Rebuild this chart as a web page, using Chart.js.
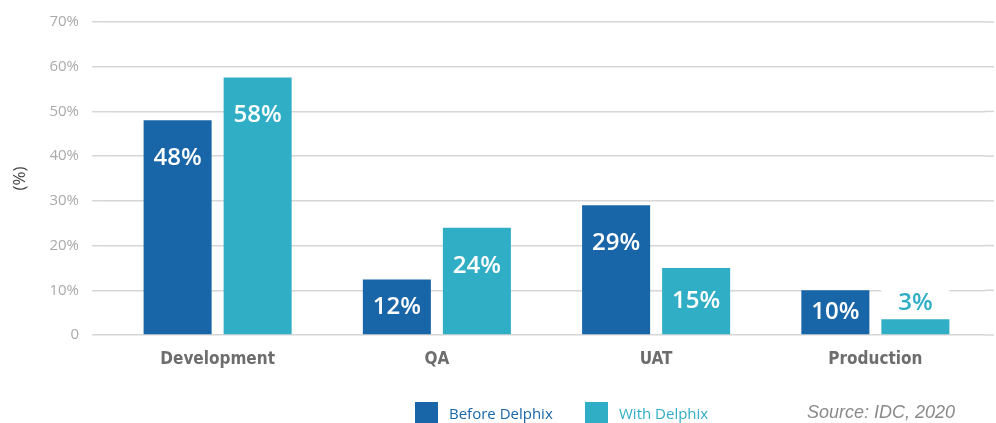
<!DOCTYPE html>
<html>
<head>
<meta charset="utf-8">
<script src="https://cdn.jsdelivr.net/npm/chart.js@4/dist/chart.umd.min.js"></script>
<style>
  html, body { margin: 0; padding: 0; background: #fff; }
  #wrap { position: relative; width: 996px; height: 423px; }
  canvas { position: absolute; left: 0; top: 0; }
  .lg { position: absolute; top: 402px; height: 23px; font-family: "Open Sans", sans-serif; font-size: 15px; line-height: 22px; white-space: nowrap; }
  .sw { display: inline-block; width: 23px; height: 23px; vertical-align: top; margin-right: 11px; }
  #src { position: absolute; left: 807px; top: 402px; font-family: "Liberation Sans", Arial, sans-serif; font-style: italic; font-size: 18px; color: #8a8a8a; white-space: nowrap; }
</style>
</head>
<body>
<div id="wrap">
  <canvas id="c" width="996" height="423"></canvas>
  <div class="lg" style="left:415px; color:#1865a8;"><span class="sw" style="background:#1865a8"></span>Before Delphix</div>
  <div class="lg" style="left:585px; color:#30aec6;"><span class="sw" style="background:#30aec6"></span>With Delphix</div>
  <div id="src">Source: IDC, 2020</div>
</div>
<script>
const categories = ['Development', 'QA', 'UAT', 'Production'];
const seriesNames = ['Before Delphix', 'With Delphix'];
const beforeValues = [48, 12.4, 29, 10];
const withValues = [57.6, 24, 15, 3.5];
const beforeLabels = ['48%', '12%', '29%', '10%'];
const withLabels = ['58%', '24%', '15%', '3%'];
const yTicks = [0, 10, 20, 30, 40, 50, 60, 70];

const BLUE = '#1865a8', TEAL = '#30aec6';
const allLabels = [beforeLabels, withLabels];

const gridExtend = {
  id: 'gridExtend',
  beforeDatasetsDraw(chart) {
    const ctx = chart.ctx, y = chart.scales.y, area = chart.chartArea;
    ctx.save();
    ctx.strokeStyle = '#d6d6d6';
    ctx.lineWidth = 1.5;
    yTicks.forEach(v => {
      const py = y.getPixelForValue(v);
      ctx.beginPath();
      ctx.moveTo(area.right, py);
      ctx.lineTo(area.right + 9, py);
      ctx.stroke();
    });
    ctx.restore();
  }
};

const labelPlugin = {
  id: 'barLabels',
  afterDatasetsDraw(chart) {
    const ctx = chart.ctx;
    ctx.save();
    ctx.textAlign = 'center';
    ctx.textBaseline = 'middle';
    ctx.font = '600 24px "Open Sans", sans-serif';
    chart.data.datasets.forEach((ds, di) => {
      const meta = chart.getDatasetMeta(di);
      meta.data.forEach((bar, i) => {
        const top = bar.y, base = bar.base;
        const h = base - top;
        const txt = allLabels[di][i];
        if (h < 25) {
          const w = bar.width;
          ctx.fillStyle = '#fff';
          ctx.fillRect(bar.x - w / 2, top - 31, w, 30);
          ctx.fillStyle = ds.backgroundColor;
          ctx.fillText(txt, bar.x, top - 16);
        } else {
          const y = Math.min(top + 38, (top + base) / 2);
          ctx.fillStyle = '#fff';
          ctx.fillText(txt, bar.x, y);
        }
      });
    });
    ctx.restore();
  }
};

new Chart(document.getElementById('c'), {
  type: 'bar',
  data: {
    labels: categories,
    datasets: [
      { label: seriesNames[0], data: beforeValues, backgroundColor: BLUE },
      { label: seriesNames[1], data: withValues, backgroundColor: TEAL }
    ]
  },
  options: {
    responsive: false,
    animation: false,
    layout: { padding: { top: 8, right: 11, left: 0, bottom: 0 } },
    datasets: { bar: { categoryPercentage: 0.73, barPercentage: 0.85 } },
    plugins: { legend: { display: false }, tooltip: { enabled: false } },
    scales: {
      x: {
        grid: { display: false },
        border: { display: false },
        ticks: {
          color: '#6d6d6d',
          padding: 6,
          font: { family: '"DejaVu Sans Condensed", "DejaVu Sans", sans-serif', size: 17, weight: 'bold' }
        },
        afterFit: s => { s.height = 88; }
      },
      y: {
        min: 0, max: 70,
        afterBuildTicks: s => { s.ticks = yTicks.map(v => ({ value: v })); },
        grid: { color: '#d6d6d6', lineWidth: 1.5, tickLength: 16, drawTicks: true },
        border: { display: false },
        title: { display: true, text: '(%)', color: '#444', font: { family: '"Open Sans", sans-serif', size: 17 }, padding: { top: 10, bottom: 0 } },
        ticks: {
          color: '#aaaaaa',
          padding: 13,
          font: { family: '"Open Sans", sans-serif', size: 15 },
          callback: v => v === 0 ? '0' : v + '%'
        },
        afterFit: s => { s.width = 108; }
      }
    }
  },
  plugins: [gridExtend, labelPlugin]
});
</script>
</body>
</html>
